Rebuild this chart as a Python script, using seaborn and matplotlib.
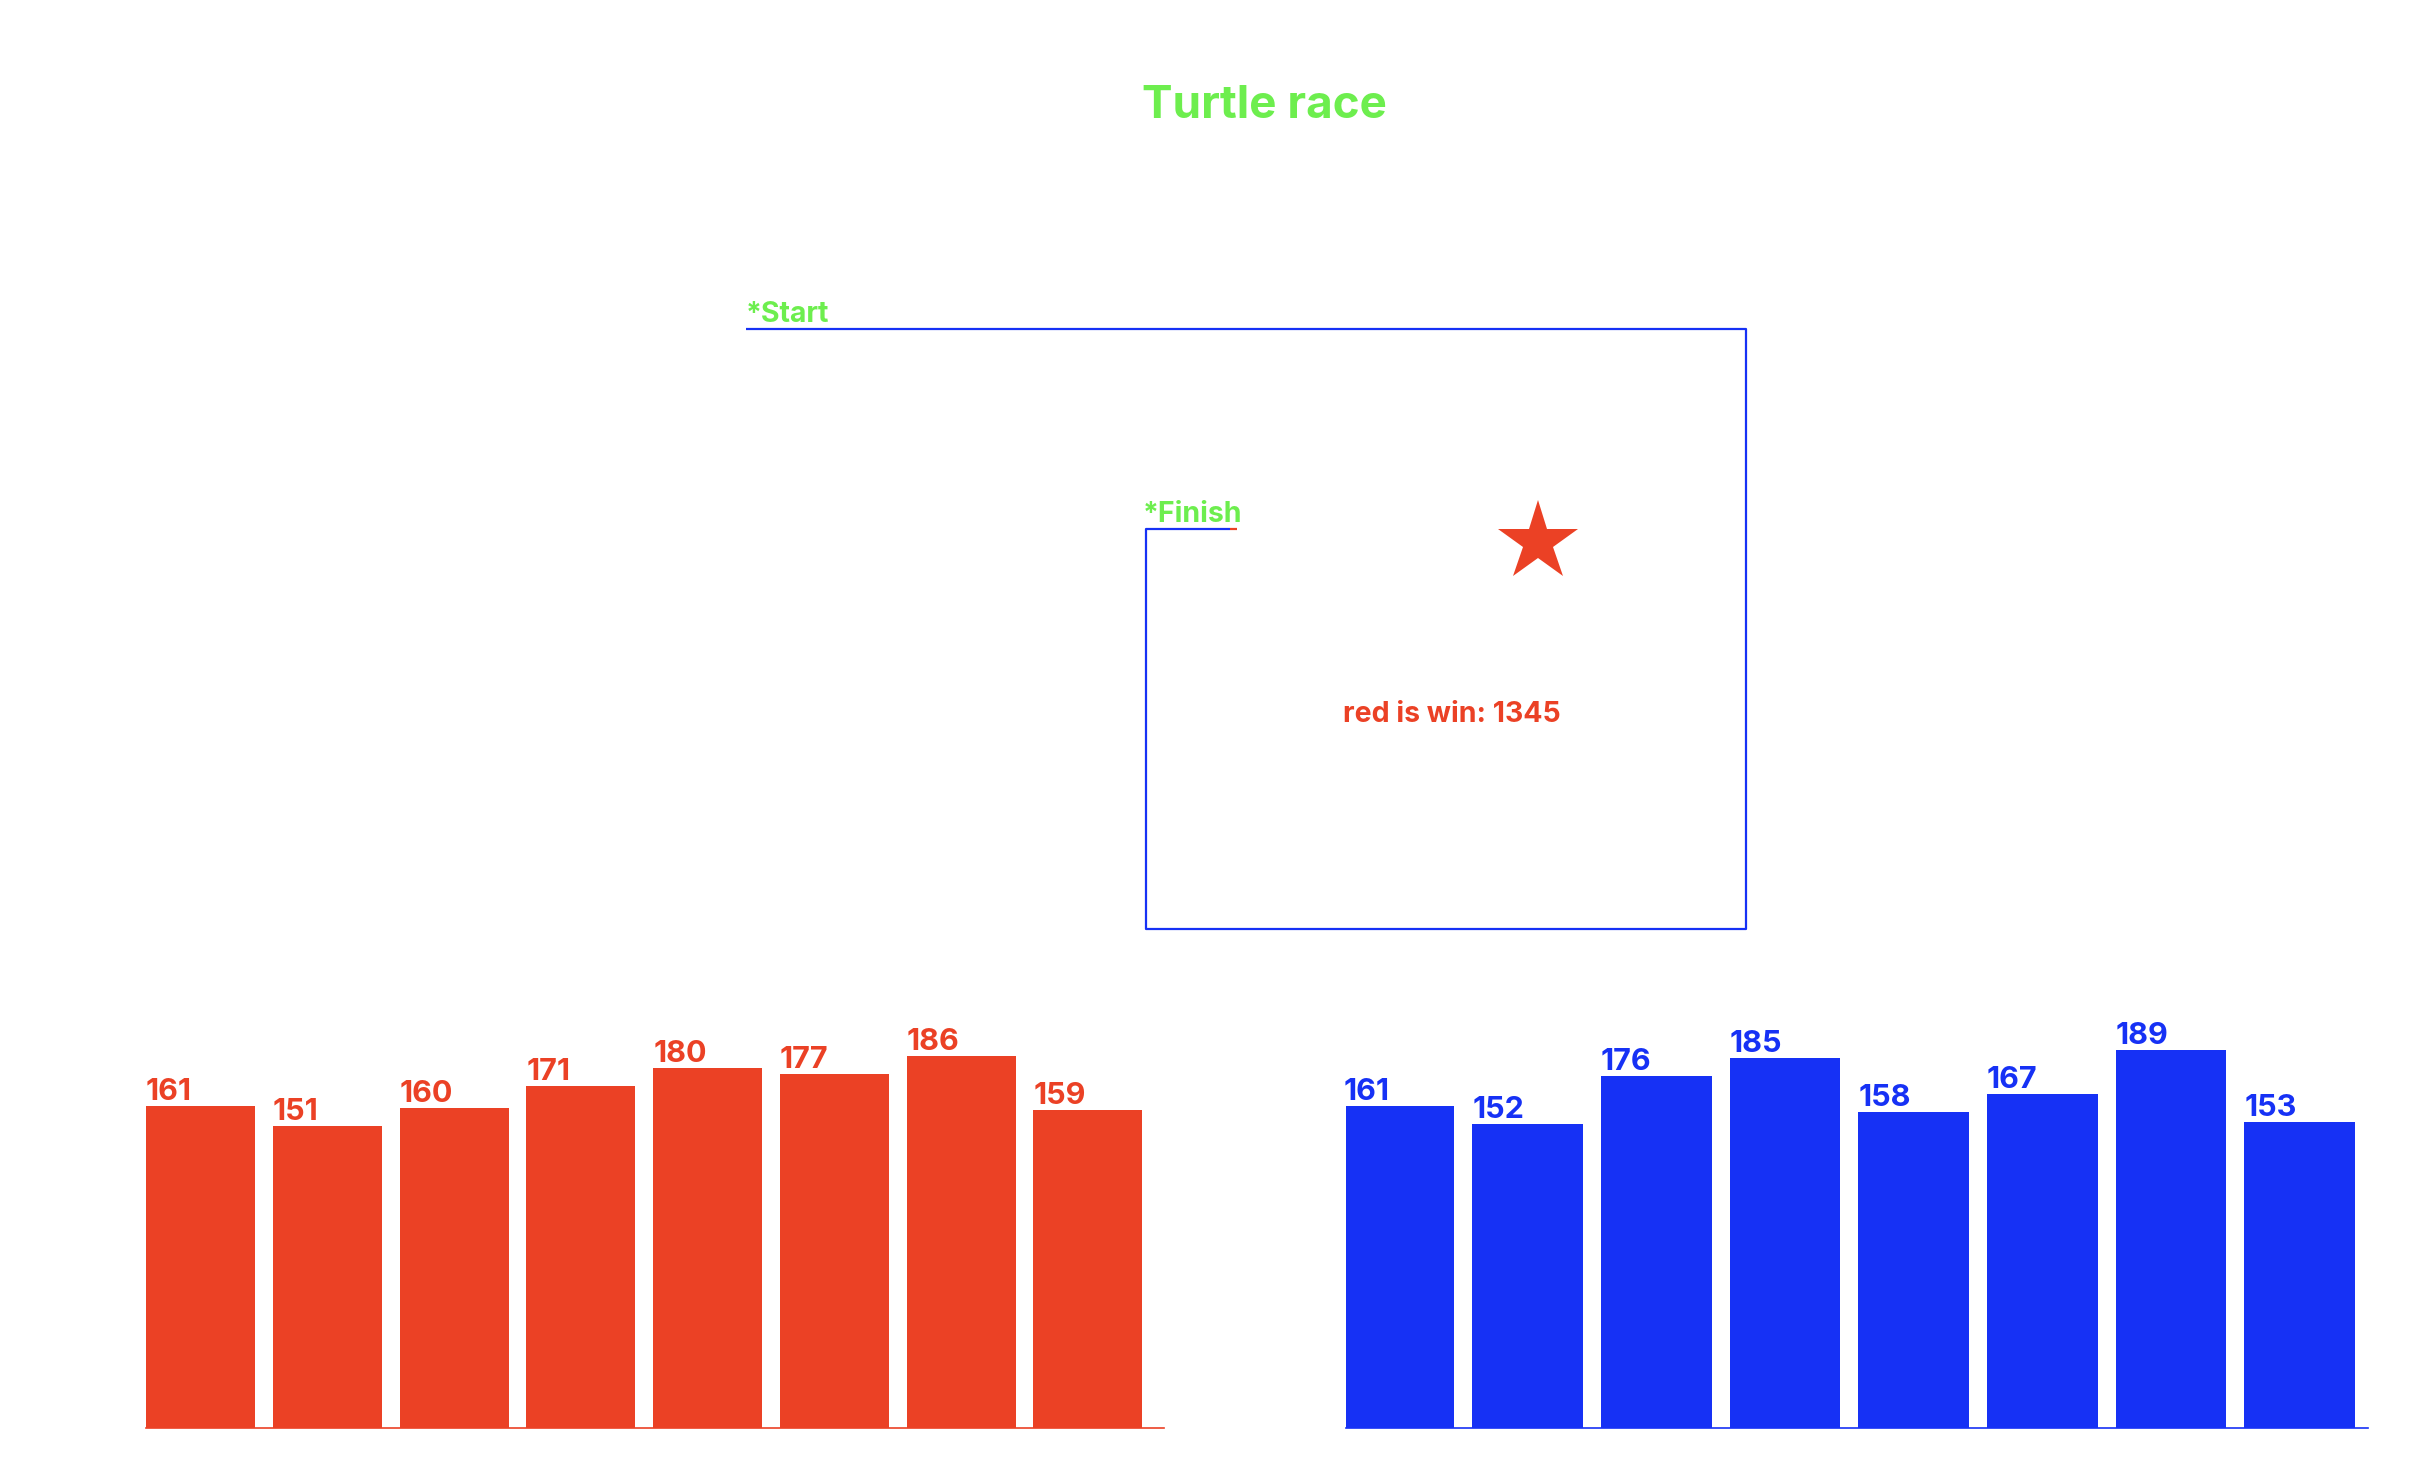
import numpy as np
import pandas as pd
import matplotlib
matplotlib.use("Agg")
import matplotlib.pyplot as plt
import seaborn as sns

# colours
RED = "#EB4125"
BLUE = "#1631F5"
GREEN = "#6DEE4E"

# data
lanes = ["1", "2", "3", "4", "5", "6", "7", "8"]
red_steps = [161, 151, 160, 171, 180, 177, 186, 159]
blue_steps = [161, 152, 176, 185, 158, 167, 189, 153]
winner = "red"
winner_total = 1345

# track drawn by the turtles (turtle units, start at origin)
track_x = [0, 500, 500, 200, 200, 242]
track_y = [0, 0, -300, -300, -100, -100]
red_tail_x = [242, 245.5]
red_tail_y = [-100, -100]
star_xy = (396, -106.5)

sns.set_theme(style="white")
plt.rcParams["font.family"] = ["Inter", "Roboto", "DejaVu Sans"]
W = "bold"

fig = plt.figure(figsize=(24.28, 14.72), dpi=100)
fig.patch.set_facecolor("white")

# overlay axes for the race track (1 unit = 2 px)
track = fig.add_axes([0, 0, 1, 1])
track.set_xlim(-373, 841)
track.set_ylim(-571.5, 164.5)
track.axis("off")
track.plot(track_x, track_y, color=BLUE, lw=1.6, solid_capstyle="butt")
track.plot(red_tail_x, red_tail_y, color=RED, lw=1.6, solid_capstyle="butt")
track.plot(*star_xy, marker="*", markersize=60.5, color=RED, markeredgewidth=0)

track.text(259, 111.5, "Turtle race", color=GREEN, fontsize=33, fontweight=W,
           ha="center", va="center")
track.text(0, 3.5, "*Start", color=GREEN, fontsize=20.5, fontweight=W,
           ha="left", va="baseline")
track.text(198.5, -96.5, "*Finish", color=GREEN, fontsize=20.5, fontweight=W,
           ha="left", va="baseline")
track.text(353, -193, f"{winner} is win: {winner_total}", color=RED, fontsize=20.5,
           fontweight=W, ha="center", va="center")

# bar panels
def bar_panel(rect, values, colour, xlim):
    ax = fig.add_axes(rect)
    df = pd.DataFrame({"lane": lanes, "steps": values})
    sns.barplot(data=df, x="lane", y="steps", color=colour, saturation=1,
                width=0.86, linewidth=0, ax=ax)
    ax.set_xlim(*xlim)
    ax.set_ylim(0, 200)
    for i, v in enumerate(values):
        ax.text(i - 0.43, v + 3, str(v), color=colour, fontsize=22,
                fontweight=W, ha="left", va="baseline", clip_on=False)
    for s in ["top", "left", "right"]:
        ax.spines[s].set_visible(False)
    ax.spines["bottom"].set_color(colour)
    ax.spines["bottom"].set_linewidth(1.2)
    ax.set_xticks([])
    ax.set_yticks([])
    ax.set_xlabel("")
    ax.set_ylabel("")
    ax.set_facecolor("none")
    return ax

bar_panel([146 / 2428, 44 / 1472, 1018 / 2428, 400 / 1472], red_steps, RED, (-0.43, 7.6))
bar_panel([1346 / 2428, 44 / 1472, 1022 / 2428, 400 / 1472], blue_steps, BLUE, (-0.41, 7.53))

fig.savefig("out.png", dpi=100, facecolor="white")
